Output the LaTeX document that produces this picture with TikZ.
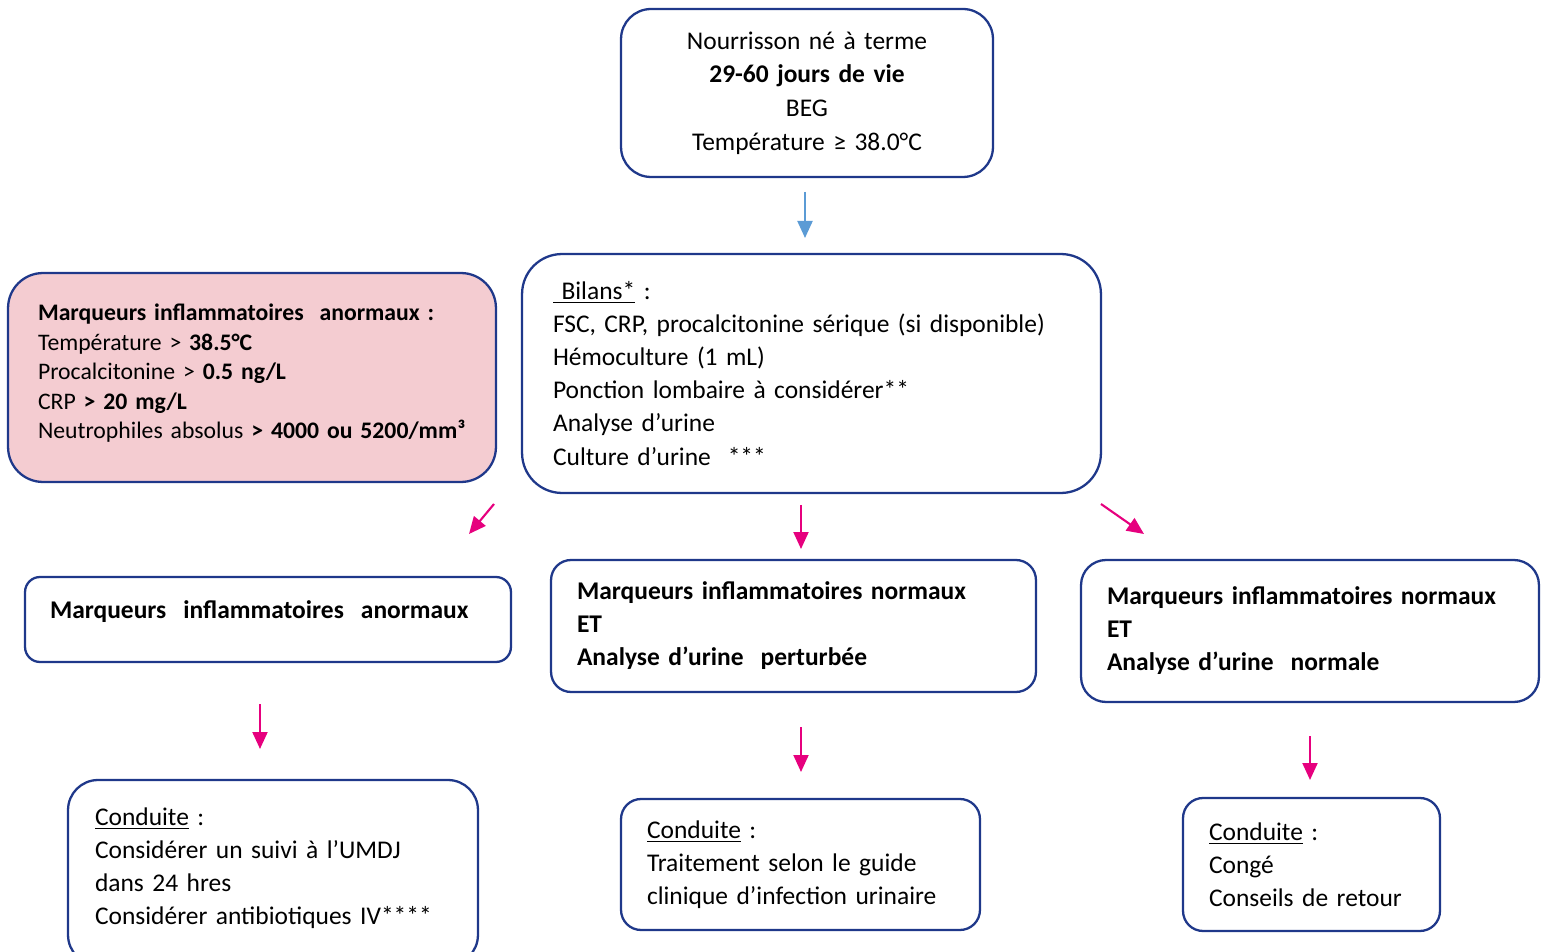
\documentclass[tikz,border=0pt]{standalone}
\usepackage{fontspec}
\setmainfont{Carlito}
\usepackage{xcolor}
\usetikzlibrary{arrows.meta,positioning,calc}
\definecolor{cadre}{RGB}{31,56,138}
\definecolor{rosefond}{RGB}{244,204,209}
\definecolor{magenta}{RGB}{230,0,126}
\definecolor{bleuclair}{RGB}{91,155,213}

\begin{document}
\begin{tikzpicture}[x=0.02cm,y=-0.02cm,font=\fontsize{14.5}{18.8}\selectfont,
  boite/.style={draw=cadre,line width=1.3pt,rounded corners=0.4cm,align=left,inner ysep=0pt},
  fleche/.style={line width=1.2pt,-{Triangle[length=0.34cm,width=0.3cm]}}]
  \useasboundingbox (0,0) rectangle (1545,952);
  % premiere ligne
  \node[boite,align=center,text width=6.84cm,inner xsep=0.3cm,minimum height=3.36cm,rounded corners=0.6cm,
    font=\fontsize{14.5}{19.2}\selectfont] (depart) at (807,93)
    {Nourrisson né à terme\\ \textbf{29-60 jours de vie}\\ BEG\\ Température ≥ 38.0°C};
  \node[boite,text width=10.34cm,inner xsep=0.62cm,minimum height=4.78cm,rounded corners=0.8cm] (bilans) at (811.5,373.5)
    {\underline{\ Bilans*} :\\ FSC, CRP, procalcitonine sérique (si disponible)\\ Hémoculture (1 mL)\\
     Ponction lombaire à considérer**\\ Analyse d’urine\\ Culture d’urine~ ***};
  \node[boite,fill=rosefond,text width=8.56cm,inner xsep=0.6cm,minimum height=4.18cm,rounded corners=0.7cm,
    font=\fontsize{13.5}{16.8}\selectfont] (criteres) at (252,377.5)
    {\textbf{Marqueurs inflammatoires~ anormaux :}\\ Température > \textbf{38.5°C}\\ Procalcitonine > \textbf{0.5 ng/L}\\
     CRP \textbf{> 20 mg/L}\\ Neutrophiles absolus \textbf{> 4000 ou 5200/mm³}\\[-10pt]\mbox{}};
  % resultats
  \node[boite,text width=8.72cm,inner xsep=0.5cm,minimum height=1.7cm,rounded corners=0.3cm] (anormaux) at (268,619.5)
    {\raisebox{0.4cm}{\textbf{Marqueurs~ inflammatoires~ anormaux}}};
  \node[boite,text width=8.66cm,inner xsep=0.52cm,minimum height=2.64cm] (urinepos) at (793.5,626)
    {\textbf{Marqueurs inflammatoires normaux}\\ \textbf{ET}\\ \textbf{Analyse d’urine~ perturbée}};
  \node[boite,text width=8.12cm,inner xsep=0.52cm,minimum height=2.84cm,rounded corners=0.5cm] (urineneg) at (1310,631)
    {\textbf{Marqueurs inflammatoires normaux}\\ \textbf{ET}\\ \textbf{Analyse d’urine~ normale}};
  % conduites
  \node[boite,text width=7.12cm,inner xsep=0.54cm,minimum height=3.7cm,rounded corners=0.6cm] (conduiteA) at (273,872.5)
    {\underline{Conduite} :\\ Considérer un suivi à l’UMDJ\\ dans 24 hres\\ Considérer antibiotiques IV****\\[-12pt]\mbox{}};
  \node[boite,text width=6.14cm,inner xsep=0.52cm,minimum height=2.62cm] (conduiteB) at (800.5,864.5)
    {\underline{Conduite} :\\ Traitement selon le guide\\ clinique d’infection urinaire};
  \node[boite,text width=4.1cm,inner xsep=0.52cm,minimum height=2.66cm] (conduiteC) at (1311.5,864.5)
    {\underline{Conduite} :\\ Congé\\ Conseils de retour};
  % fleches
  \coordinate (b1) at (805,192); \coordinate (b2) at (805,238);
  \draw[fleche,bleuclair] (b1) -- (b2);
  \foreach \nom/\de/\vers in {fa/{494,504}/{469,534},fb/{801,505}/{801,549},fc/{1101,504}/{1144,534},
                              fd/{260,704}/{260,749},fe/{801,727}/{801,772},ff/{1310,736}/{1310,780}}{
    \coordinate (\nom1) at (\de); \coordinate (\nom2) at (\vers);
    \draw[fleche,magenta] (\nom1) -- (\nom2);
  }
\end{tikzpicture}
\end{document}
